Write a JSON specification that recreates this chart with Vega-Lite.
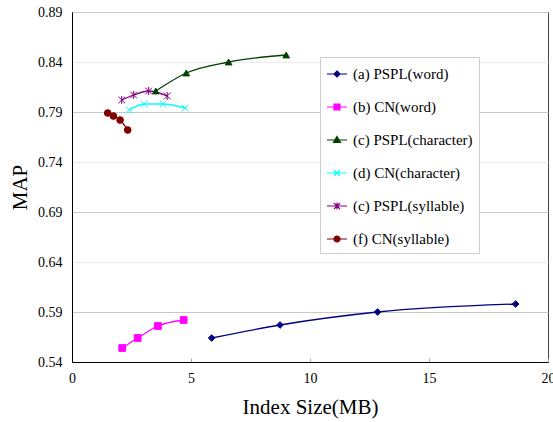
{
  "$schema": "https://vega.github.io/schema/vega-lite/v6.json",
  "width": 476,
  "height": 350,
  "autosize": {"type": "none"},
  "padding": {"left": 72, "top": 12, "right": 5, "bottom": 60},
  "background": "white",
  "config": {
    "view": {"stroke": "#444", "strokeWidth": 1},
    "font": "Liberation Serif",
    "legend": {
      "orient": "none", "legendX": 248, "legendY": 45, "title": null,
      "padding": 6, "rowPadding": 14, "strokeColor": "#ccc", "fillColor": "white",
      "labelFont": "Liberation Serif", "labelFontSize": 15, "labelColor": "#000", "labelOffset": 5,
      "symbolSize": 400, "symbolStrokeWidth": 1.2
    }
  },
  "data": {
    "values": [
      {"s": "(a) PSPL(word)", "x": 5.87, "y": 0.564},
      {"s": "(a) PSPL(word)", "x": 8.74, "y": 0.577},
      {"s": "(a) PSPL(word)", "x": 12.84, "y": 0.590},
      {"s": "(a) PSPL(word)", "x": 18.64, "y": 0.598},
      {"s": "(b) CN(word)", "x": 2.11, "y": 0.554},
      {"s": "(b) CN(word)", "x": 2.76, "y": 0.564},
      {"s": "(b) CN(word)", "x": 3.61, "y": 0.576},
      {"s": "(b) CN(word)", "x": 4.69, "y": 0.582},
      {"s": "(c) PSPL(character)", "x": 3.52, "y": 0.811},
      {"s": "(c) PSPL(character)", "x": 4.80, "y": 0.829},
      {"s": "(c) PSPL(character)", "x": 6.58, "y": 0.840},
      {"s": "(c) PSPL(character)", "x": 9.00, "y": 0.847},
      {"s": "(d) CN(character)", "x": 2.41, "y": 0.792},
      {"s": "(d) CN(character)", "x": 3.04, "y": 0.798},
      {"s": "(d) CN(character)", "x": 3.82, "y": 0.798},
      {"s": "(d) CN(character)", "x": 4.75, "y": 0.794},
      {"s": "(c) PSPL(syllable)", "x": 2.09, "y": 0.802},
      {"s": "(c) PSPL(syllable)", "x": 2.59, "y": 0.807},
      {"s": "(c) PSPL(syllable)", "x": 3.22, "y": 0.811},
      {"s": "(c) PSPL(syllable)", "x": 4.00, "y": 0.806},
      {"s": "(f) CN(syllable)", "x": 1.50, "y": 0.789},
      {"s": "(f) CN(syllable)", "x": 1.74, "y": 0.786},
      {"s": "(f) CN(syllable)", "x": 2.02, "y": 0.782},
      {"s": "(f) CN(syllable)", "x": 2.34, "y": 0.772}
    ]
  },
  "encoding": {
    "x": {
      "field": "x", "type": "quantitative",
      "scale": {"domain": [0, 20], "nice": false},
      "axis": {
        "values": [0, 5, 10, 15, 20], "title": "Index Size(MB)", "grid": false,
        "labelFlush": false,
        "ticks": true, "tickSize": -4, "tickColor": "#aaa",
        "domainColor": "#000", "labelFontSize": 14, "labelColor": "#000", "labelPadding": 13,
        "labelFont": "Liberation Serif",
        "titleFont": "Liberation Serif", "titleFontSize": 21, "titleFontWeight": "normal",
        "titleColor": "#000", "titlePadding": 11
      }
    },
    "y": {
      "field": "y", "type": "quantitative",
      "scale": {"domain": [0.54, 0.89], "nice": false, "zero": false},
      "axis": {
        "values": [0.54, 0.59, 0.64, 0.69, 0.74, 0.79, 0.84, 0.89], "format": ".2f",
        "labelFlush": false,
        "title": "MAP", "ticks": false, "labelPadding": 10, "domainColor": "#000",
        "labelFontSize": 14, "labelColor": "#000", "labelFont": "Liberation Serif",
        "grid": true,
        "gridColor": {"condition": {"test": "round(datum.value*100) % 10 == 9", "value": "#c8c8c8"}, "value": "#ececec"},
        "titleFont": "Liberation Serif", "titleFontSize": 21, "titleFontWeight": "normal",
        "titleColor": "#000", "titlePadding": 7
      }
    }
  },
  "resolve": {
    "scale": {"shape": "independent", "fill": "independent", "stroke": "independent"},
    "legend": {"shape": "independent", "fill": "independent", "stroke": "independent"}
  },
  "layer": [
    {
      "mark": {"type": "line", "interpolate": "monotone", "strokeWidth": 1.3},
      "encoding": {
        "stroke": {
          "field": "s", "type": "nominal",
          "scale": {
            "domain": ["(a) PSPL(word)", "(b) CN(word)", "(c) PSPL(character)", "(d) CN(character)", "(c) PSPL(syllable)", "(f) CN(syllable)"],
            "range": ["#000080", "#ff00ff", "#004000", "#00ffff", "#800080", "#800000"]
          },
          "legend": null
        }
      }
    },
    {
      "mark": {"type": "point", "filled": true, "size": 45, "strokeWidth": 1, "opacity": 1},
      "encoding": {
        "fill": {
          "field": "s", "type": "nominal",
          "scale": {
            "domain": ["(a) PSPL(word)", "(b) CN(word)", "(c) PSPL(character)", "(d) CN(character)", "(c) PSPL(syllable)", "(f) CN(syllable)"],
            "range": ["#000080", "#ff00ff", "#004000", "#00ffff", "#800080", "#800000"]
          },
          "legend": null
        },
        "stroke": {
          "field": "s", "type": "nominal",
          "scale": {
            "domain": ["(a) PSPL(word)", "(b) CN(word)", "(c) PSPL(character)", "(d) CN(character)", "(c) PSPL(syllable)", "(f) CN(syllable)"],
            "range": ["#000080", "#ff00ff", "#004000", "#00ffff", "#800080", "#800000"]
          },
          "legend": null
        },
        "shape": {
          "field": "s", "type": "nominal",
          "scale": {
            "domain": ["(a) PSPL(word)", "(b) CN(word)", "(c) PSPL(character)", "(d) CN(character)", "(c) PSPL(syllable)", "(f) CN(syllable)"],
            "range": ["diamond", "square", "triangle-up", "M-1,-1L1,1M-1,1L1,-1", "M-1,-1L1,1M-1,1L1,-1M0,-1.2L0,1.2", "circle"]
          },
          "legend": null
        }
      }
    },
    {
      "transform": [{"filter": "datum.x < 0"}],
      "mark": {"type": "point", "filled": true, "strokeWidth": 1.2, "opacity": 1},
      "encoding": {
        "fill": {
          "field": "s", "type": "nominal",
          "scale": {
            "domain": ["(a) PSPL(word)", "(b) CN(word)", "(c) PSPL(character)", "(d) CN(character)", "(c) PSPL(syllable)", "(f) CN(syllable)"],
            "range": ["#000080", "#ff00ff", "#004000", "#00ffff", "#800080", "#800000"]
          }
        },
        "stroke": {
          "field": "s", "type": "nominal",
          "scale": {
            "domain": ["(a) PSPL(word)", "(b) CN(word)", "(c) PSPL(character)", "(d) CN(character)", "(c) PSPL(syllable)", "(f) CN(syllable)"],
            "range": ["#000080", "#ff00ff", "#004000", "#00ffff", "#800080", "#800000"]
          }
        },
        "shape": {
          "field": "s", "type": "nominal",
          "scale": {
            "domain": ["(a) PSPL(word)", "(b) CN(word)", "(c) PSPL(character)", "(d) CN(character)", "(c) PSPL(syllable)", "(f) CN(syllable)"],
            "range": [
              "M-1,0H1M0,-0.3L0.3,0L0,0.3L-0.3,0Z",
              "M-1,0H1M-0.3,-0.3H0.3V0.3H-0.3Z",
              "M-1,0H1M0,-0.35L0.35,0.25H-0.35Z",
              "M-1,0H1M-0.3,-0.3L0.3,0.3M-0.3,0.3L0.3,-0.3",
              "M-1,0H1M-0.3,-0.3L0.3,0.3M-0.3,0.3L0.3,-0.3M0,-0.35V0.35",
              "M-1,0H1M0.3,0A0.3,0.3,0,1,1,-0.3,0A0.3,0.3,0,1,1,0.3,0Z"
            ]
          }
        }
      }
    }
  ]
}
